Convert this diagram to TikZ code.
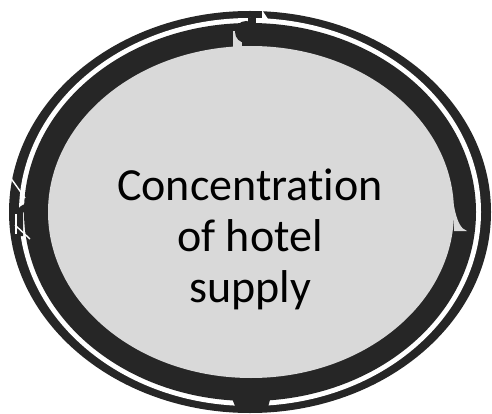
\documentclass[tikz,border=0pt]{standalone}
\usepackage{fontspec}
\setmainfont{Carlito}[Ligatures={NoCommon}]
\usetikzlibrary{shapes.geometric}
\definecolor{ringdark}{HTML}{262626}
\definecolor{fillgray}{HTML}{D9D9D9}
\tikzset{
  darkfill/.style={fill=ringdark, draw=none},
  grayfill/.style={fill=fillgray, draw=none},
  gapline/.style={draw=white, line width=1.4pt}
}
\begin{document}
\begin{tikzpicture}[x=1pt,y=-1pt]
\useasboundingbox (0,0) rectangle (492,414);
% outer thin ring
\fill[ringdark] (250,212) ellipse [x radius=241, y radius=201];
\fill[white] (250,212) ellipse [x radius=231, y radius=194];
% thick ring
\fill[ringdark] (250,212) ellipse [x radius=226, y radius=189];
% centre ellipse
\node[ellipse, grayfill, minimum width=406pt, minimum height=332pt, inner sep=0pt] (core) at (251,212) {};
% top arrow joint
\fill[grayfill] (233,31) rectangle (242,47);
\fill[darkfill] (246,32) circle [radius=11];
\fill[darkfill] (248,18) rectangle (256,24);
\fill[white] (262,10) -- (268,19) -- (262,19) -- cycle;
% left arrow joint
\draw[gapline] (10,177) -- (25,198);
\draw[ringdark, line width=6pt] (20,236) -- (20,214) arc [start angle=180, end angle=360, radius=7];
\draw[white, line width=1.5pt] (16,234) -- (16,214);
\draw[gapline] (15,225) -- (30,239);
% right arrow joint
\fill[grayfill] (454,206) .. controls (457,222) and (461,229) .. (467,231) -- (454,231) -- cycle;
% bottom arrow joint
\fill[darkfill] (231,396) -- (271,396) -- (267,411) -- (237,411) -- cycle;
% label
\node[anchor=base, align=center, font=\fontsize{46}{51}\selectfont, inner sep=0pt] (label) at (250,302) {Concentration\\of hotel\\supply};
\end{tikzpicture}
\end{document}
